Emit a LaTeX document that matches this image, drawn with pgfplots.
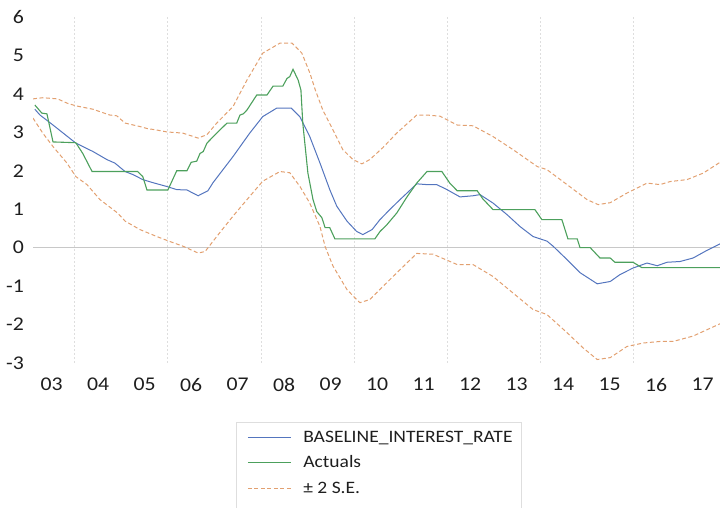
\documentclass[border=0pt]{standalone}
\usepackage{fontspec}
\setmainfont{Carlito}[FakeStretch=1.12]
\usepackage{pgfplots}
\pgfplotsset{compat=1.18}
\usepackage{pgfplotstable}

\definecolor{baseblue}{RGB}{84,117,190}
\definecolor{actgreen}{RGB}{76,160,92}
\definecolor{seorange}{RGB}{226,160,112}
\definecolor{gridgray}{RGB}{222,222,222}
\definecolor{zerogray}{RGB}{200,200,200}
\definecolor{ticktext}{RGB}{30,30,30}

% baseline forecast
\pgfplotstableread{
t y
2003.14 3.60
2003.25 3.45
2003.53 3.19
2004.02 2.72
2004.39 2.50
2004.69 2.29
2004.86 2.20
2005.08 1.98
2005.25 1.90
2005.46 1.77
2005.68 1.69
2005.98 1.59
2006.19 1.51
2006.41 1.50
2006.65 1.35
2006.86 1.48
2006.97 1.69
2007.40 2.37
2007.76 2.98
2008.04 3.41
2008.34 3.63
2008.65 3.63
2008.84 3.40
2009.05 2.89
2009.27 2.20
2009.48 1.51
2009.63 1.08
2009.85 0.69
2010.06 0.42
2010.19 0.34
2010.39 0.47
2010.56 0.73
2010.77 0.99
2010.99 1.25
2011.14 1.42
2011.35 1.66
2011.57 1.64
2011.78 1.64
2012.00 1.51
2012.28 1.32
2012.56 1.35
2012.71 1.38
2012.99 1.16
2013.29 0.86
2013.57 0.55
2013.85 0.29
2014.15 0.17
2014.28 0.04
2014.58 -0.31
2014.86 -0.65
2015.23 -0.94
2015.51 -0.88
2015.72 -0.70
2016.00 -0.53
2016.30 -0.40
2016.52 -0.47
2016.73 -0.38
2017.01 -0.36
2017.29 -0.27
2017.59 -0.07
2017.87 0.10
}\tabbase

% actuals
\pgfplotstableread{
t y
2003.14 3.71
2003.29 3.50
2003.40 3.48
2003.53 2.75
2004.02 2.73
2004.17 2.45
2004.37 1.98
2005.35 1.98
2005.46 1.85
2005.55 1.50
2006.00 1.50
2006.19 2.00
2006.41 2.00
2006.50 2.22
2006.62 2.25
2006.69 2.45
2006.76 2.50
2006.84 2.72
2007.05 2.98
2007.27 3.24
2007.48 3.24
2007.55 3.45
2007.62 3.48
2007.70 3.58
2007.91 3.97
2008.13 3.97
2008.26 4.20
2008.47 4.20
2008.56 4.40
2008.62 4.45
2008.69 4.64
2008.80 4.36
2008.86 4.10
2008.90 3.24
2009.01 1.94
2009.12 1.25
2009.20 0.94
2009.31 0.78
2009.38 0.52
2009.48 0.52
2009.59 0.23
2010.45 0.23
2010.56 0.42
2010.71 0.60
2010.92 0.90
2011.14 1.32
2011.35 1.68
2011.57 1.98
2011.89 1.98
2012.06 1.68
2012.22 1.48
2012.65 1.48
2012.77 1.27
2012.99 0.99
2013.89 0.99
2014.04 0.73
2014.47 0.73
2014.60 0.23
2014.80 0.23
2014.86 0.00
2015.08 0.00
2015.29 -0.27
2015.51 -0.27
2015.61 -0.38
2016.00 -0.38
2016.19 -0.52
2017.87 -0.52
}\tabact

% +2 s.e.
\pgfplotstableread{
t y
2003.10 3.87
2003.31 3.90
2003.63 3.87
2003.83 3.76
2004.02 3.69
2004.39 3.60
2004.75 3.45
2004.90 3.43
2005.08 3.24
2005.40 3.15
2005.55 3.10
2005.76 3.06
2005.98 3.01
2006.32 2.98
2006.65 2.85
2006.84 2.94
2007.05 3.24
2007.40 3.67
2007.70 4.36
2008.04 5.06
2008.41 5.32
2008.67 5.32
2008.88 5.06
2009.05 4.55
2009.17 4.10
2009.33 3.58
2009.55 3.06
2009.76 2.55
2009.98 2.29
2010.17 2.18
2010.34 2.29
2010.62 2.60
2010.92 2.98
2011.35 3.45
2011.57 3.45
2011.85 3.42
2012.22 3.19
2012.56 3.17
2012.99 2.89
2013.42 2.55
2013.94 2.11
2014.15 2.03
2014.58 1.64
2015.01 1.25
2015.25 1.12
2015.51 1.17
2015.87 1.42
2016.30 1.68
2016.58 1.64
2016.80 1.72
2017.16 1.77
2017.51 1.94
2017.87 2.22
}\tabup

% -2 s.e.
\pgfplotstableread{
t y
2003.10 3.37
2003.31 2.98
2003.53 2.63
2003.83 2.20
2004.02 1.85
2004.26 1.64
2004.54 1.25
2004.92 0.90
2005.08 0.69
2005.40 0.47
2005.76 0.29
2006.02 0.17
2006.32 0.04
2006.65 -0.14
2006.80 -0.10
2007.05 0.29
2007.40 0.82
2007.70 1.25
2008.04 1.73
2008.41 1.98
2008.62 1.95
2008.84 1.59
2009.05 1.16
2009.27 0.55
2009.38 0.03
2009.55 -0.48
2009.85 -1.09
2010.09 -1.39
2010.13 -1.43
2010.34 -1.35
2010.84 -0.75
2011.35 -0.15
2011.70 -0.17
2012.22 -0.44
2012.56 -0.44
2012.99 -0.75
2013.42 -1.18
2013.85 -1.61
2014.15 -1.74
2014.58 -2.21
2014.92 -2.60
2015.23 -2.91
2015.51 -2.86
2015.87 -2.57
2016.22 -2.48
2016.58 -2.44
2016.86 -2.44
2017.29 -2.30
2017.87 -1.98
}\tablow

\begin{document}
\begin{tikzpicture}[x=1bp,y=1bp]
\useasboundingbox (0,0) rectangle (720,508);
\begin{axis}[
	at={(33bp,145bp)}, anchor=south west,
	scale only axis, width=687bp, height=346bp,
	xmin=2003.1, xmax=2017.87, ymin=-3, ymax=6,
	axis line style={draw=none},
	major tick length=0pt,
	xtick={2003.5,2004.5,...,2017.5},
	xticklabels={03,04,05,06,07,08,09,10,11,12,13,14,15,16,17},
	ytick={-3,-2,...,6},
	yticklabels={-3,-2,-1,0,1,2,3,4,5,6},
	xticklabel style={font=\fontsize{19.5}{20}\selectfont, text=ticktext, anchor=north, inner sep=0pt, yshift=-15bp},
	yticklabel style={font=\fontsize{19.5}{20}\selectfont, text=ticktext, anchor=east, inner sep=0pt, xshift=-9bp},
	extra x ticks={2004,2006,...,2016},
	extra x tick labels={},
	extra x tick style={grid=major, major grid style={gridgray, line width=0.8bp, dash pattern=on 2bp off 2bp}},
	extra y ticks={0},
	extra y tick labels={},
	extra y tick style={grid=major, major grid style={zerogray, line width=1.3bp}},
	legend style={at={(0.3115,-0.177)}, anchor=north west, draw=none, fill=none,
		inner sep=0pt, column sep=12bp, row sep=0pt,
		font=\fontsize{17.5}{21}\selectfont,
		nodes={inner sep=0pt, minimum height=25.5bp, text=ticktext}},
	legend cell align=left,
	legend image code/.code={\draw[#1] (0bp,0bp) -- (43bp,0bp);},
]
\addplot[baseblue, line width=1bp] table[x=t, y=y] {\tabbase};
\addlegendentry{BASELINE\_INTEREST\_RATE}
\addplot[actgreen, line width=1.1bp] table[x=t, y=y] {\tabact};
\addlegendentry{Actuals}
\addplot[seorange, line width=1bp, dash pattern=on 4bp off 2.5bp] table[x=t, y=y] {\tabup};
\addlegendentry{± 2 S.E.}
\addplot[seorange, line width=1bp, dash pattern=on 4bp off 2.5bp, forget plot] table[x=t, y=y] {\tablow};
\end{axis}
\draw[gridgray, line width=0.8bp] (236,-20) -- (236,86) -- (521,86) -- (521,-20);
\end{tikzpicture}
\end{document}
